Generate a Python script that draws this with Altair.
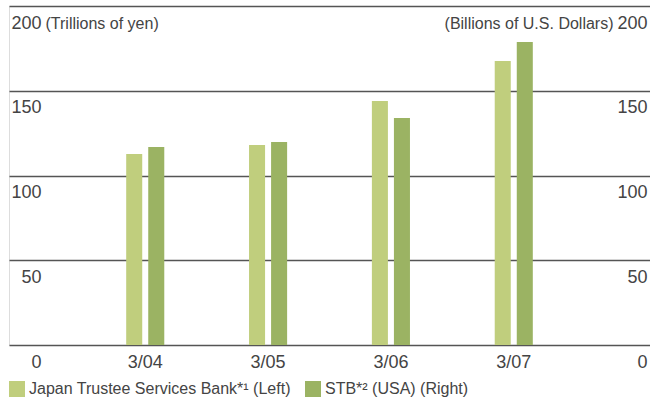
import altair as alt
import pandas as pd

# Fiscal year-ends and assets under custody
periods = ["3/04", "3/05", "3/06", "3/07"]
jtsb_trillion_yen = [112.7, 118.0, 144.0, 167.6]
stb_billion_usd = [116.8, 119.8, 133.9, 178.8]

series_names = ["Japan Trustee Services Bank*¹ (Left)", "STB*² (USA) (Right)"]
series_colors = ["#C0CE7D", "#9BB363"]
y_ticks = [0, 50, 100, 150, 200]

rows = []
for p, a, b in zip(periods, jtsb_trillion_yen, stb_billion_usd):
    rows.append({"period": p, "series": series_names[0], "value": a})
    rows.append({"period": p, "series": series_names[1], "value": b})
df = pd.DataFrame(rows)

TEXT = "#444444"
FONT = "Liberation Sans"

x_enc = alt.X(
    "period:N",
    sort=periods,
    scale=alt.Scale(paddingInner=0.69, paddingOuter=0.954),
    axis=alt.Axis(
        title=None, domain=False, ticks=False, tickSize=0, labelAngle=0,
        labelFontSize=18, labelPadding=22, labelBaseline="alphabetic",
        labelColor=TEXT, labelFont=FONT,
    ),
)
xoff_enc = alt.XOffset(
    "series:N",
    scale=alt.Scale(domain=series_names, paddingInner=0.2727, paddingOuter=0),
)
color_enc = alt.Color(
    "series:N",
    scale=alt.Scale(domain=series_names, range=series_colors),
    legend=alt.Legend(
        title=None, orient="none", legendX=0, legendY=375, direction="horizontal",
        symbolType="square", symbolSize=256, symbolStrokeWidth=0, symbolOpacity=1,
        labelFontSize=16, labelOffset=4, columnPadding=14, padding=0,
        labelColor=TEXT, labelFont=FONT, labelLimit=400,
    ),
)

common_axis = dict(
    values=y_ticks, domain=False, ticks=False, tickSize=0,
    labelAlign="right", labelBaseline="alphabetic", labelOffset=22,
    labelFontSize=18, labelColor=TEXT, labelFont=FONT,
    labelFlush=False, labelOverlap=False, labelBound=False,
    titleAngle=0, titleY=22, titleBaseline="alphabetic",
    titleFontSize=16, titleFontWeight="normal", titleColor=TEXT, titleFont=FONT,
)

left = alt.Chart(df).transform_filter(
    alt.datum.series == series_names[0]
).mark_bar().encode(
    x=x_enc,
    xOffset=xoff_enc,
    color=color_enc,
    y=alt.Y(
        "value:Q",
        scale=alt.Scale(domain=[0, 200], nice=False),
        axis=alt.Axis(
            orient="left", grid=True, gridColor="#555555", gridWidth=1.3,
            labelPadding=-32, title="(Trillions of yen)", titleX=36,
            titleAlign="left", **common_axis,
        ),
    ),
)

right = alt.Chart(df).transform_filter(
    alt.datum.series == series_names[1]
).mark_bar().encode(
    x=x_enc,
    xOffset=xoff_enc,
    color=color_enc,
    y=alt.Y(
        "value:Q",
        scale=alt.Scale(domain=[0, 200], nice=False),
        axis=alt.Axis(
            orient="right", grid=False,
            labelPadding=-3, title="(Billions of U.S. Dollars)", titleX=-37,
            titleAlign="right", **common_axis,
        ),
    ),
)

chart = alt.layer(left, right).resolve_scale(y="independent").properties(
    width=641,
    height=339,
    autosize=alt.AutoSizeParams(type="none"),
    padding={"left": 9, "top": 6, "right": 0, "bottom": 54},
    background="white",
).configure_view(stroke=None).configure(font=FONT)

chart.save("out.html", embed_options={"renderer": "svg", "actions": False})
